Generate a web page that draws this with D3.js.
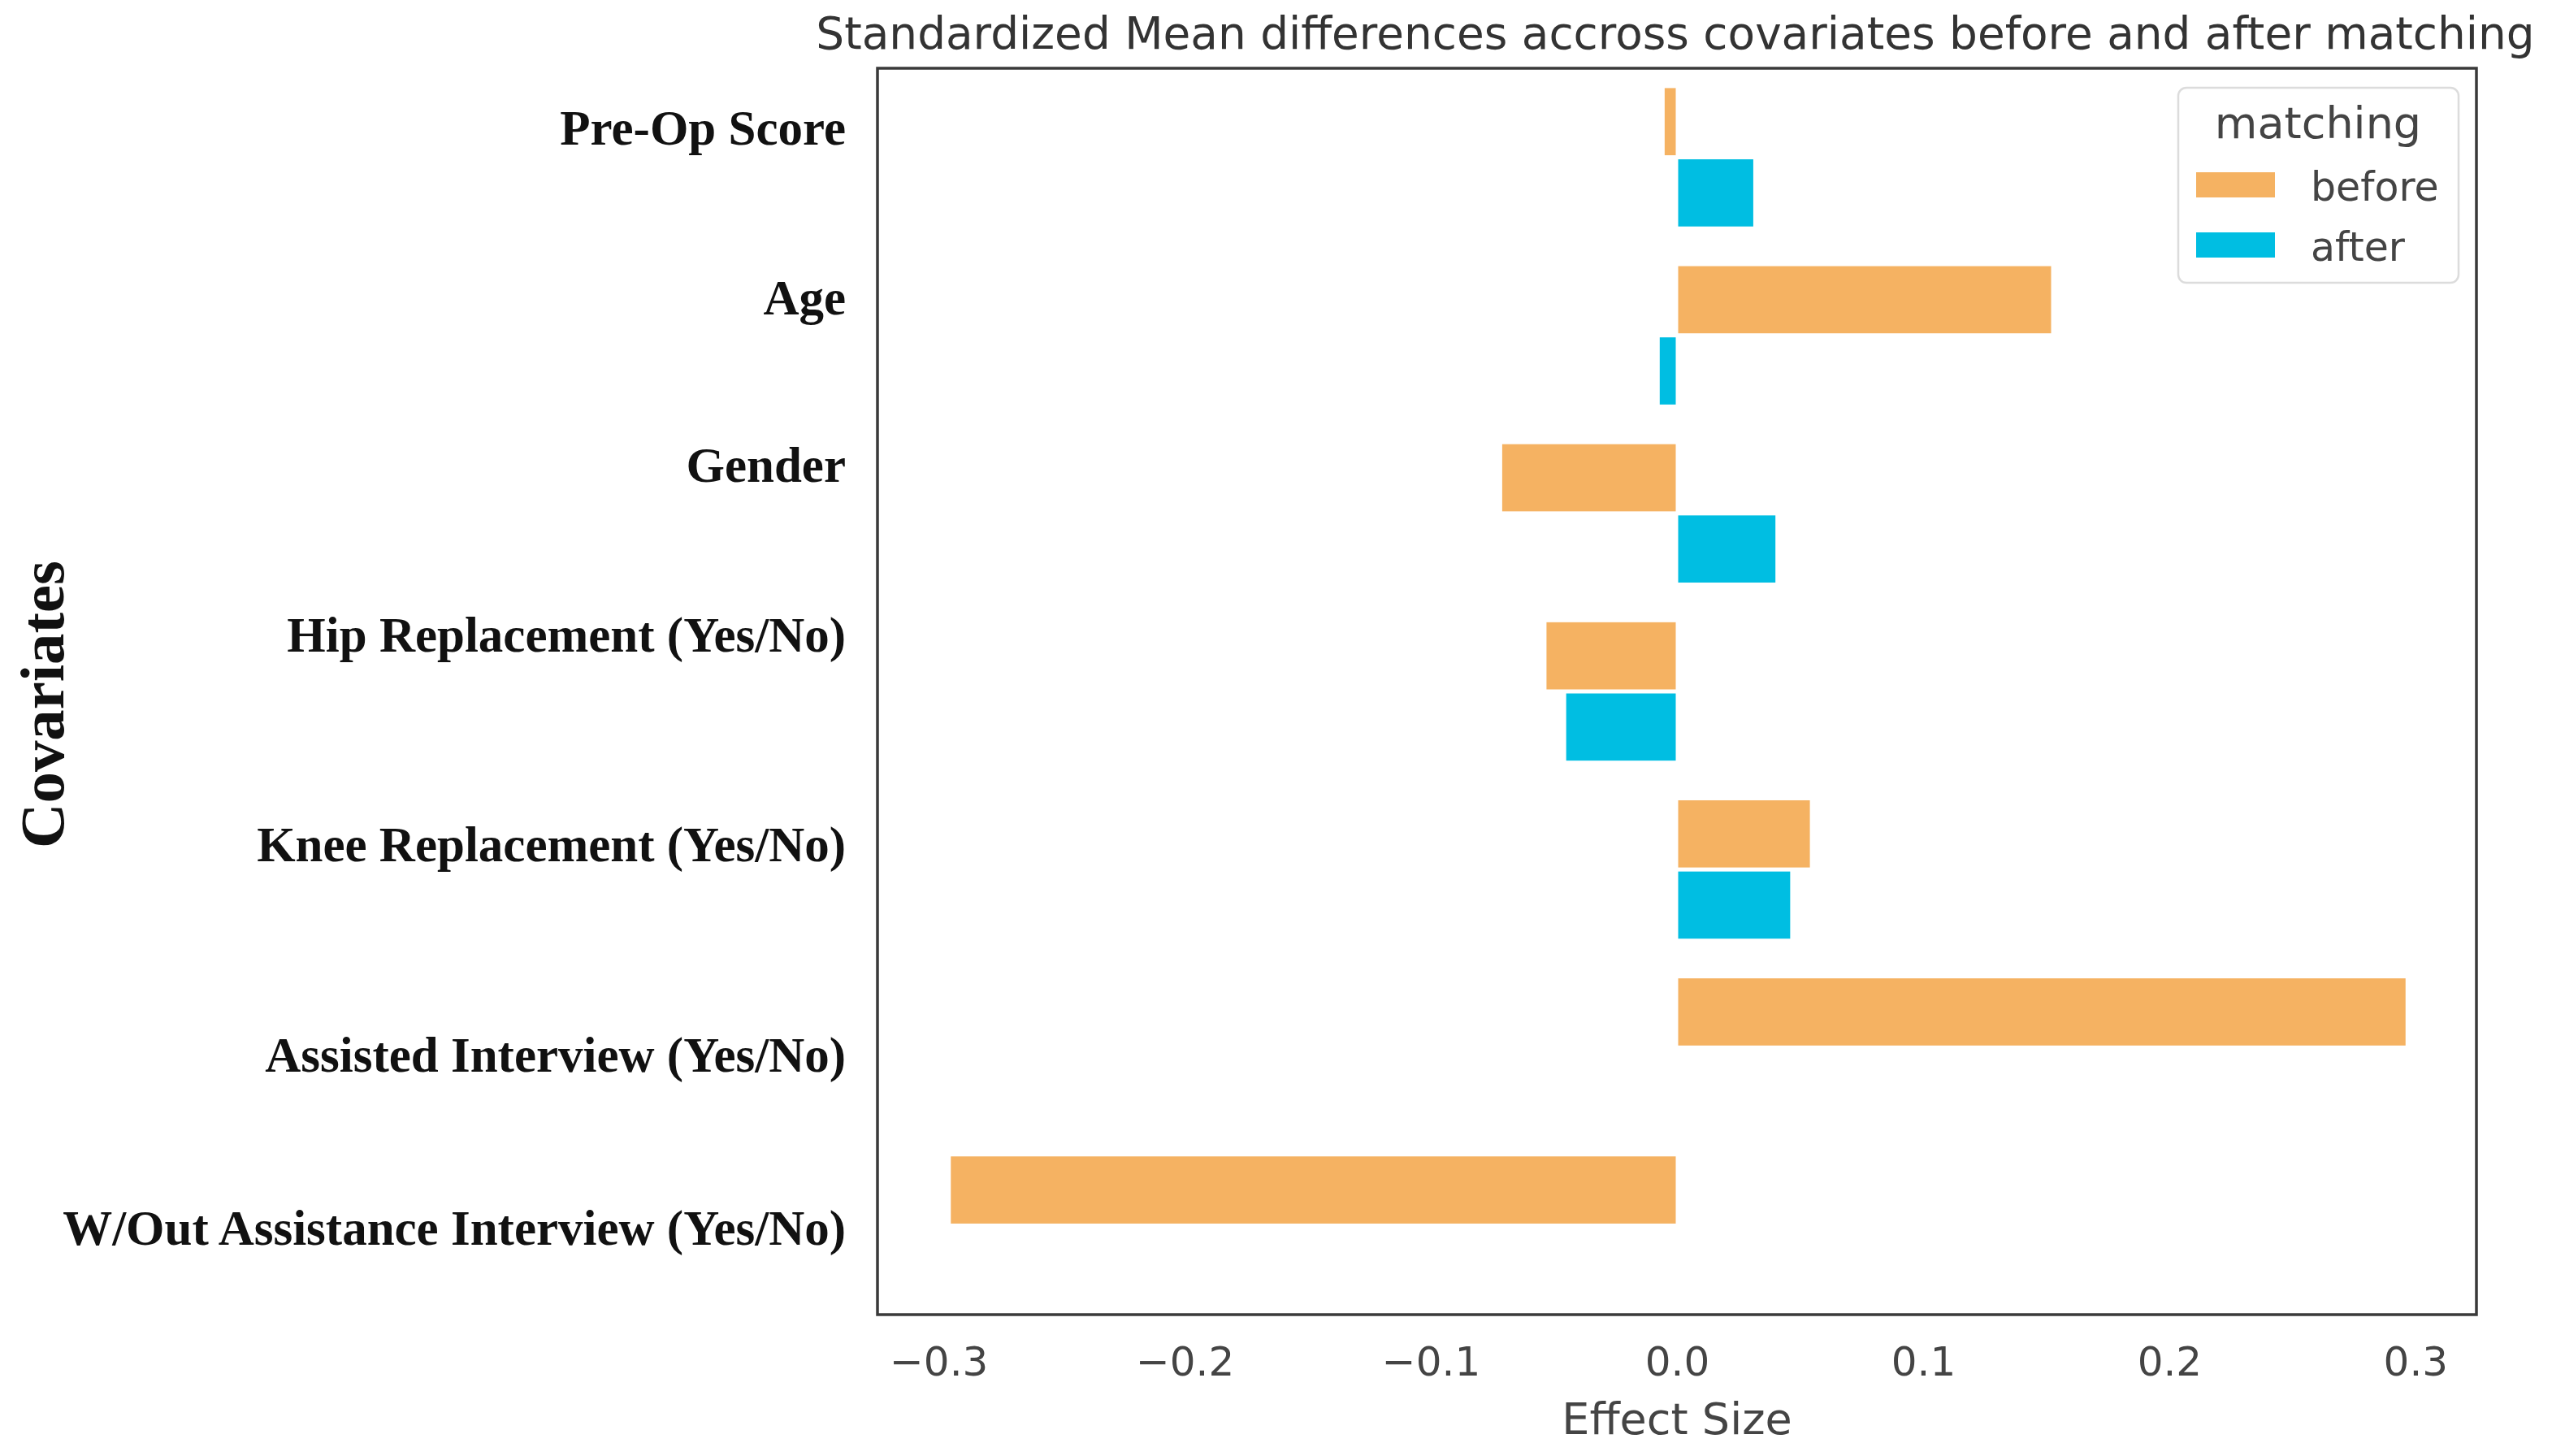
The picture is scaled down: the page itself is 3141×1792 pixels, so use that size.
<!DOCTYPE html>
<html><head><meta charset="utf-8">
<script src="https://cdn.jsdelivr.net/npm/d3@7"></script>
<style>html,body{margin:0;background:#fff;overflow:hidden}</style>
</head><body>
<svg id="chart" width="3141" height="1792"></svg>
<script>
// ---- data ----
const categories = ["Pre-Op Score", "Age", "Gender", "Hip Replacement (Yes/No)",
  "Knee Replacement (Yes/No)", "Assisted Interview (Yes/No)", "W/Out Assistance Interview (Yes/No)"];
const seriesNames = ["before", "after"];
const beforeValues = [-0.005, 0.152, -0.071, -0.053, 0.054, 0.296, -0.295];
const afterValues  = [0.031, -0.007, 0.040, -0.045, 0.046, 0, 0];
const xTicks = [-0.3, -0.2, -0.1, 0.0, 0.1, 0.2, 0.3];
const titleText = "Standardized Mean differences accross covariates before and after matching";
const xLabel = "Effect Size";
const yLabel = "Covariates";
const legendTitle = "matching";

// ---- layout / style ----
const plot = {left: 1080, right: 3048, top: 84, bottom: 1618};
const xDomain = [-0.3248, 0.3248];
const colors = {before: "#F5B262", after: "#00BEE2"};
const labelNudge = [-36, -46, -59, -69, -30, 10, 3];
const sans = "'DejaVu Sans', sans-serif";
const serif = "'Liberation Serif', 'DejaVu Serif', serif";

const svg = d3.select("#chart");
svg.append("rect").attr("width", 3141).attr("height", 1792).attr("fill", "#fff");

const x = d3.scaleLinear().domain(xDomain).range([plot.left, plot.right]);
const y = d3.scaleBand().domain(categories).range([plot.top, plot.bottom])
  .paddingInner(0.2).paddingOuter(0.1);
const ySub = d3.scaleBand().domain(seriesNames).range([0, y.bandwidth()]);

const rows = categories.map((c, i) => ({cat: c, before: beforeValues[i], after: afterValues[i]}));
const inset = 2.5;

// bars
const g = svg.append("g");
seriesNames.forEach(s => {
  g.selectAll("rect.b-" + s).data(rows).join("rect")
    .attr("class", "b-" + s)
    .attr("x", d => x(Math.min(0, d[s])) + (d[s] >= 0 ? 1.5 : 0))
    .attr("width", d => Math.max(0, Math.abs(x(d[s]) - x(0)) - 1.5))
    .attr("y", d => y(d.cat) + ySub(s) + inset)
    .attr("height", ySub.bandwidth() - 2 * inset)
    .attr("fill", colors[s]);
});

// frame
svg.append("rect").attr("x", plot.left).attr("y", plot.top)
  .attr("width", plot.right - plot.left).attr("height", plot.bottom - plot.top)
  .attr("fill", "none").attr("stroke", "#3a3a3a").attr("stroke-width", 3.5);

// x axis
const xAxis = svg.append("g").attr("transform", `translate(0,${plot.bottom})`)
  .call(d3.axisBottom(x).tickValues(xTicks).tickSize(0).tickFormat(d3.format(".1f")));
xAxis.select(".domain").remove();
xAxis.selectAll("text").attr("y", 75).attr("dy", 0)
  .attr("font-family", sans).attr("font-size", 50).attr("fill", "#444");

// y axis labels
const yAxis = svg.append("g").attr("transform", `translate(${plot.left},0)`)
  .call(d3.axisLeft(y).tickSize(0));
yAxis.select(".domain").remove();
yAxis.selectAll(".tick").attr("transform", (d, i) =>
  `translate(0,${y(d) + y.bandwidth() / 2 + labelNudge[i]})`);
yAxis.selectAll("text").attr("x", 1041 - plot.left).attr("dy", "0.33em")
  .attr("font-family", serif).attr("font-weight", "bold").attr("font-size", 52).attr("fill", "#111");
// fit widest label to measured width
let maxW = 0;
yAxis.selectAll("text").each(function() { maxW = Math.max(maxW, this.getComputedTextLength()); });
yAxis.selectAll("text").attr("font-size", 52 * 964 / maxW);

// title
const title = svg.append("text").attr("x", 2062).attr("y", 60).attr("text-anchor", "middle")
  .attr("font-family", sans).attr("font-size", 50).attr("fill", "#333").text(titleText);
title.attr("font-size", 50 * 2116 / title.node().getComputedTextLength());

// x label
svg.append("text").attr("x", 2064).attr("y", 1765).attr("text-anchor", "middle")
  .attr("font-family", sans).attr("font-size", 54).attr("fill", "#444").text(xLabel);

// y label
const yl = svg.append("text").attr("transform", "translate(78,867) rotate(-90)")
  .attr("text-anchor", "middle").attr("font-family", serif).attr("font-weight", "bold")
  .attr("font-size", 78).attr("fill", "#111").text(yLabel);
yl.attr("font-size", 78 * 354 / yl.node().getComputedTextLength());

// legend
const lg = svg.append("g");
lg.append("rect").attr("x", 2681).attr("y", 108).attr("width", 345).attr("height", 240)
  .attr("rx", 10).attr("fill", "#fff").attr("stroke", "#dcdcdc").attr("stroke-width", 2.5);
lg.append("text").attr("x", 2853).attr("y", 170).attr("text-anchor", "middle")
  .attr("font-family", sans).attr("font-size", 54).attr("fill", "#444").text(legendTitle);
const legendY = d3.scalePoint().domain(seriesNames).range([212, 286]);
seriesNames.forEach(s => {
  lg.append("rect").attr("x", 2703).attr("y", legendY(s)).attr("width", 97).attr("height", 31)
    .attr("fill", colors[s]);
  lg.append("text").attr("x", 2844).attr("y", legendY(s) + 35)
    .attr("font-family", sans).attr("font-size", 49).attr("fill", "#444").text(s);
});
</script>
</body></html>
